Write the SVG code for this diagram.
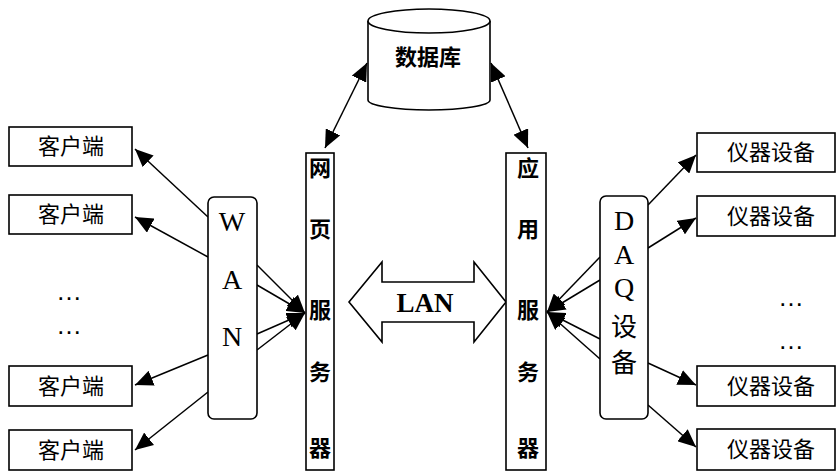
<svg xmlns="http://www.w3.org/2000/svg" width="836" height="471" viewBox="0 0 836 471">
<style>
.box{fill:#fff;stroke:#000;stroke-width:1.6}
.cjk{font-family:"Liberation Sans","Noto Sans CJK SC",sans-serif;font-size:22px;fill:#000;text-anchor:middle;dominant-baseline:central}
.b{font-weight:bold}
.ser{font-family:"Liberation Serif","Noto Sans CJK SC",serif;font-size:28px;fill:#000;text-anchor:middle;dominant-baseline:central}
.ln{stroke:#000;stroke-width:1.5;fill:none;marker-end:url(#ah)}
.dl{stroke:#000;stroke-width:1.5;fill:none;marker-start:url(#ah);marker-end:url(#ah)}
.dots{font-family:"Liberation Sans",sans-serif;font-size:26px;fill:#000;text-anchor:middle}
</style>
<defs>
<marker id="ah" markerUnits="userSpaceOnUse" markerWidth="20" markerHeight="16" refX="18" refY="8" orient="auto-start-reverse" viewBox="0 0 20 16">
<path d="M0,0 L18,8 L0,16 Z" fill="#000"/>
</marker>
</defs>

<g id="connectors">
<line class="ln" x1="208" y1="217" x2="135" y2="149"/>
<line class="ln" x1="208" y1="257" x2="135" y2="217"/>
<line class="ln" x1="208" y1="355" x2="135" y2="385"/>
<line class="ln" x1="208" y1="392" x2="135" y2="450"/>
<line class="ln" x1="257" y1="265" x2="305" y2="313"/>
<line class="ln" x1="257" y1="285" x2="305" y2="313"/>
<line class="ln" x1="257" y1="334" x2="305" y2="313"/>
<line class="ln" x1="257" y1="350" x2="305" y2="313"/>
<line class="ln" x1="648" y1="205" x2="696" y2="155"/>
<line class="ln" x1="648" y1="248" x2="696" y2="218"/>
<line class="ln" x1="648" y1="363" x2="696" y2="385"/>
<line class="ln" x1="648" y1="405" x2="696" y2="447"/>
<line class="ln" x1="600" y1="257" x2="547" y2="312"/>
<line class="ln" x1="600" y1="280" x2="547" y2="312"/>
<line class="ln" x1="600" y1="339" x2="547" y2="312"/>
<line class="ln" x1="600" y1="359" x2="547" y2="312"/>
<line class="dl" x1="367" y1="63" x2="325" y2="148"/>
<line class="dl" x1="491" y1="63" x2="528" y2="148"/>
</g>

<g id="database">
<path class="box" d="M368,21 V100 A61,10 0 0 0 490,100 V21"/>
<ellipse class="box" cx="429" cy="21" rx="61" ry="12"/>
<text class="cjk b" x="428" y="57">数据库</text>
</g>

<g id="client1"><rect class="box" x="9" y="127" width="123" height="39"/><text class="cjk" x="71" y="146">客户端</text></g>
<g id="client2"><rect class="box" x="9" y="195" width="123" height="39"/><text class="cjk" x="71" y="214">客户端</text></g>
<g id="client3"><rect class="box" x="9" y="366" width="123" height="40"/><text class="cjk" x="71" y="386">客户端</text></g>
<g id="client4"><rect class="box" x="9" y="430" width="123" height="40"/><text class="cjk" x="71" y="450">客户端</text></g>
<g id="dots-left"><text class="dots" x="69" y="300">…</text><text class="dots" x="69" y="334">…</text></g>

<g id="wan">
<rect class="box" x="208" y="197" width="49" height="222" rx="6"/>
<text class="ser" x="232" y="221">W</text>
<text class="ser" x="232" y="279">A</text>
<text class="ser" x="232" y="336">N</text>
</g>

<g id="web-server">
<rect class="box" x="306" y="153" width="28" height="317"/>
<text class="cjk b" x="320" y="168">网</text>
<text class="cjk b" x="320" y="229">页</text>
<text class="cjk b" x="320" y="310">服</text>
<text class="cjk b" x="320" y="372">务</text>
<text class="cjk b" x="320" y="448">器</text>
</g>

<g id="lan">
<path class="box" d="M349,302 L382,262 V282 H474 V262 L506,302 L474,342 V322 H382 V342 Z"/>
<text x="425" y="303" style="font-family:'Liberation Serif',serif;font-size:27px;font-weight:bold;text-anchor:middle;dominant-baseline:central">LAN</text>
</g>

<g id="app-server">
<rect class="box" x="506" y="153" width="40" height="317"/>
<text class="cjk b" x="528" y="168">应</text>
<text class="cjk b" x="528" y="229">用</text>
<text class="cjk b" x="528" y="310">服</text>
<text class="cjk b" x="528" y="372">务</text>
<text class="cjk b" x="528" y="448">器</text>
</g>

<g id="daq">
<rect class="box" x="600" y="196" width="48" height="223" rx="6"/>
<text class="ser" x="624" y="220">D</text>
<text class="ser" x="624" y="254">A</text>
<text class="ser" x="624" y="287">Q</text>
<text class="cjk" x="624" y="327" style="font-size:26px">设</text>
<text class="cjk" x="624" y="363" style="font-size:26px">备</text>
</g>

<g id="inst1"><rect class="box" x="697" y="133" width="138" height="39"/><text class="cjk" x="771" y="152">仪器设备</text></g>
<g id="inst2"><rect class="box" x="697" y="196" width="138" height="40"/><text class="cjk" x="771" y="216">仪器设备</text></g>
<g id="inst3"><rect class="box" x="697" y="366" width="138" height="40"/><text class="cjk" x="771" y="386">仪器设备</text></g>
<g id="inst4"><rect class="box" x="697" y="429" width="138" height="41"/><text class="cjk" x="771" y="449">仪器设备</text></g>
<g id="dots-right"><text class="dots" x="791" y="306">…</text><text class="dots" x="791" y="349">…</text></g>
</svg>
